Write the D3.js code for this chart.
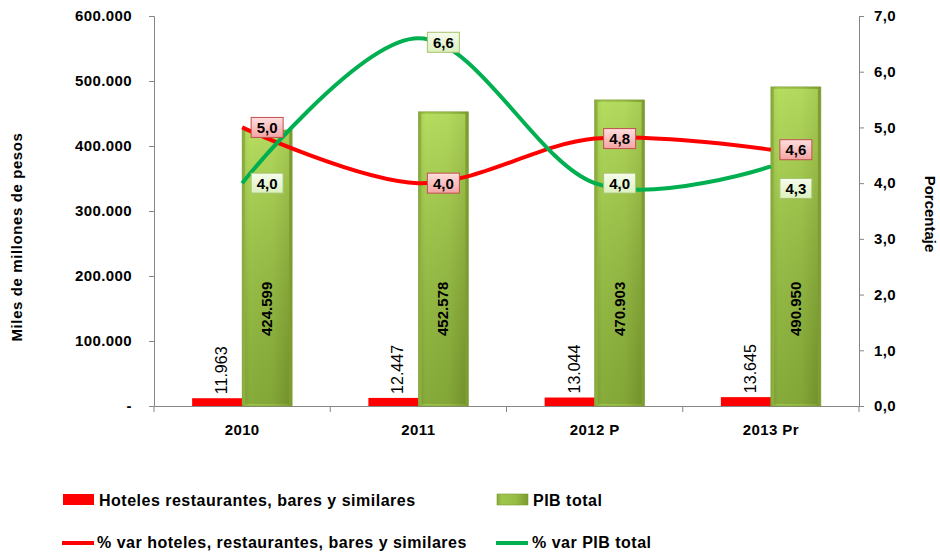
<!DOCTYPE html>
<html>
<head>
  <title>PIB y hoteles</title>
  <style>
    body { margin: 0; background: #fff; }
    .chart text { font-family: "Liberation Sans", Arial, sans-serif; font-weight: bold; fill: #000; }
    .axis path, .axis line { stroke: #868686; }
    .axis text { font-size: 15px; letter-spacing: 0.4px; }
  </style>
</head>
<body>
  <svg id="chart" class="chart" width="940" height="554"></svg>

  <script src="https://d3js.org/d3.v7.min.js"></script>
  <script>
    // data
    const years = ['2010', '2011', '2012 P', '2013 Pr'];
    const hoteles = [11963, 12447, 13044, 13645];
    const pibTotal = [424599, 452578, 470903, 490950];
    const varHoteles = [5.0, 4.0, 4.8, 4.6];
    const varPib = [4.0, 6.6, 4.0, 4.3];
    const leftTicks = [0, 100000, 200000, 300000, 400000, 500000, 600000];
    const rightTicks = [0, 1, 2, 3, 4, 5, 6, 7];

    const svg = d3.select('#chart');
    const plot = { left: 154, right: 859, top: 16, bottom: 406 };

    const x = d3.scaleBand().domain(years).range([plot.left, plot.right]);
    const yL = d3.scaleLinear().domain([0, 600000]).range([plot.bottom, plot.top]);
    const yR = d3.scaleLinear().domain([0, 7]).range([plot.bottom, plot.top]);
    const cx = d => x(d) + x.bandwidth() / 2;
    const barW = 50;

    const fmtThousands = d3.formatLocale({ decimal: ',', thousands: '.', grouping: [3], currency: ['$', ''] });
    const fmtInt = fmtThousands.format(',d');
    const fmtPct = fmtThousands.format(',.1f');

    // gradients
    const defs = svg.append('defs');
    const gGreen = defs.append('linearGradient').attr('id', 'barGreen').attr('x1', 0).attr('x2', 1).attr('y1', 0).attr('y2', 0);
    gGreen.append('stop').attr('offset', '0%').attr('stop-color', '#86a93a');
    gGreen.append('stop').attr('offset', '15%').attr('stop-color', '#9dc64a');
    gGreen.append('stop').attr('offset', '60%').attr('stop-color', '#97bd45');
    gGreen.append('stop').attr('offset', '100%').attr('stop-color', '#7b9a2f');
    const gShade = defs.append('linearGradient').attr('id', 'barShade').attr('x1', 0).attr('x2', 0).attr('y1', 0).attr('y2', 1);
    gShade.append('stop').attr('offset', '0%').attr('stop-color', '#c8ef70').attr('stop-opacity', 0.55);
    gShade.append('stop').attr('offset', '100%').attr('stop-color', '#5d7a1e').attr('stop-opacity', 0.35);
    const gPink = defs.append('linearGradient').attr('id', 'boxRed').attr('x1', 0).attr('x2', 0).attr('y1', 0).attr('y2', 1);
    gPink.append('stop').attr('offset', '0%').attr('stop-color', '#ffdede');
    gPink.append('stop').attr('offset', '100%').attr('stop-color', '#f3a4a4');
    const gLight = defs.append('linearGradient').attr('id', 'boxGreen').attr('x1', 0).attr('x2', 0).attr('y1', 0).attr('y2', 1);
    gLight.append('stop').attr('offset', '0%').attr('stop-color', '#f6fcec');
    gLight.append('stop').attr('offset', '100%').attr('stop-color', '#dcf0c0');

    // axes
    const axisL = svg.append('g').attr('class', 'axis')
      .attr('transform', `translate(${plot.left},0)`)
      .call(d3.axisLeft(yL).tickValues(leftTicks).tickSize(5).tickPadding(17)
        .tickFormat(d => d === 0 ? '-' : fmtInt(d)));
    const axisR = svg.append('g').attr('class', 'axis')
      .attr('transform', `translate(${plot.right},0)`)
      .call(d3.axisRight(yR).tickValues(rightTicks).tickSize(5).tickPadding(10)
        .tickFormat(fmtPct));
    const axisX = svg.append('g').attr('class', 'axis')
      .attr('transform', `translate(0,${plot.bottom})`)
      .call(d3.axisBottom(x).tickSize(0).tickPadding(18));
    [axisL, axisR, axisX].forEach(a => a.select('.domain').attr('stroke', '#868686'));
    // x ticks at category boundaries
    axisX.selectAll('.bound').data(years.concat(['end'])).enter().append('line')
      .attr('x1', (d, i) => i < years.length ? x(d) : plot.right)
      .attr('x2', (d, i) => i < years.length ? x(d) : plot.right)
      .attr('y1', 0).attr('y2', 6).attr('stroke', '#868686');

    svg.append('text').attr('transform', 'translate(22,237) rotate(-90)')
      .attr('text-anchor', 'middle').style('font-size', '15px').style('letter-spacing', '0.6px')
      .text('Miles de millones de pesos');
    svg.append('text').attr('transform', 'translate(925,214) rotate(90)')
      .attr('text-anchor', 'middle').style('font-size', '15px').text('Porcentaje');

    // bars
    svg.selectAll('.bar-h').data(years).enter().append('rect')
      .attr('x', d => cx(d) - barW).attr('width', barW)
      .attr('y', (d, i) => yL(hoteles[i]))
      .attr('height', (d, i) => yL(0) - yL(hoteles[i]))
      .attr('fill', '#ff0000');

    const pibG = svg.selectAll('.bar-p').data(years).enter().append('g');
    pibG.append('rect')
      .attr('x', d => cx(d)).attr('width', barW)
      .attr('y', (d, i) => yL(pibTotal[i]))
      .attr('height', (d, i) => yL(0) - yL(pibTotal[i]))
      .attr('fill', 'url(#barGreen)').attr('stroke', '#7e9c34').attr('stroke-width', 0.6);
    pibG.append('rect')
      .attr('x', d => cx(d) + 3).attr('width', barW - 6)
      .attr('y', (d, i) => yL(pibTotal[i]) + 2)
      .attr('height', (d, i) => yL(0) - yL(pibTotal[i]) - 4)
      .attr('fill', 'url(#barShade)');

    // bar value labels
    svg.selectAll('.lab-h').data(years).enter().append('text')
      .attr('transform', (d, i) => `translate(${cx(d) - 15},${yL(hoteles[i]) - 4}) rotate(-90)`)
      .attr('text-anchor', 'start').style('font-size', '16px').style('font-weight', 'normal')
      .text((d, i) => fmtInt(hoteles[i]));
    svg.selectAll('.lab-p').data(years).enter().append('text')
      .attr('transform', d => `translate(${cx(d) + 30},${yL(0) - 70}) rotate(-90)`)
      .attr('text-anchor', 'start').style('font-size', '15px')
      .text((d, i) => fmtInt(pibTotal[i]));

    // lines
    const line = d3.line().x((d, i) => cx(years[i])).y(d => yR(d)).curve(d3.curveCardinal.tension(0));
    svg.append('path').attr('d', line(varHoteles)).attr('fill', 'none')
      .attr('stroke', '#ff0000').attr('stroke-width', 4);
    svg.append('path').attr('d', line(varPib)).attr('fill', 'none')
      .attr('stroke', '#00b050').attr('stroke-width', 4);

    // line value labels
    function labelBox(vals, fill, stroke, shiftY) {
      vals.forEach((v, i) => {
        const lx = cx(years[i]) + 25;
        const ly = yR(v) + (shiftY[i] || 0);
        const g = svg.append('g').attr('transform', `translate(${lx},${ly})`);
        g.append('rect').attr('x', -16).attr('y', -10).attr('width', 32).attr('height', 20)
          .attr('fill', fill).attr('stroke', stroke).attr('stroke-width', 1);
        g.append('text').attr('text-anchor', 'middle').attr('dy', '0.36em')
          .style('font-size', '15px').text(fmtPct(v));
      });
    }
    labelBox(varHoteles, 'url(#boxRed)', '#c0504d', [0, 0, 0, 0]);
    labelBox(varPib, 'url(#boxGreen)', '#a6c36b', [0, 4, 0, 22]);

    // legend
    const leg = svg.append('g').style('font-size', '16px').style('letter-spacing', '0.5px');
    leg.append('rect').attr('x', 63).attr('y', 494).attr('width', 31).attr('height', 11).attr('fill', '#ff0000');
    leg.append('text').attr('x', 99).attr('y', 500).attr('dy', '0.35em').text('Hoteles restaurantes, bares y similares');
    leg.append('rect').attr('x', 497).attr('y', 494).attr('width', 31).attr('height', 11)
      .attr('fill', 'url(#barGreen)').attr('stroke', '#7e9c34').attr('stroke-width', 0.6);
    leg.append('text').attr('x', 533).attr('y', 500).attr('dy', '0.35em').text('PIB total');
    leg.append('line').attr('x1', 62).attr('x2', 94).attr('y1', 543).attr('y2', 543)
      .attr('stroke', '#ff0000').attr('stroke-width', 4);
    leg.append('text').attr('x', 97).attr('y', 542).attr('dy', '0.35em').text('% var hoteles, restaurantes, bares y similares');
    leg.append('line').attr('x1', 496).attr('x2', 528).attr('y1', 543).attr('y2', 543)
      .attr('stroke', '#00b050').attr('stroke-width', 4);
    leg.append('text').attr('x', 532).attr('y', 542).attr('dy', '0.35em').text('% var PIB total');
  </script>
</body>
</html>
